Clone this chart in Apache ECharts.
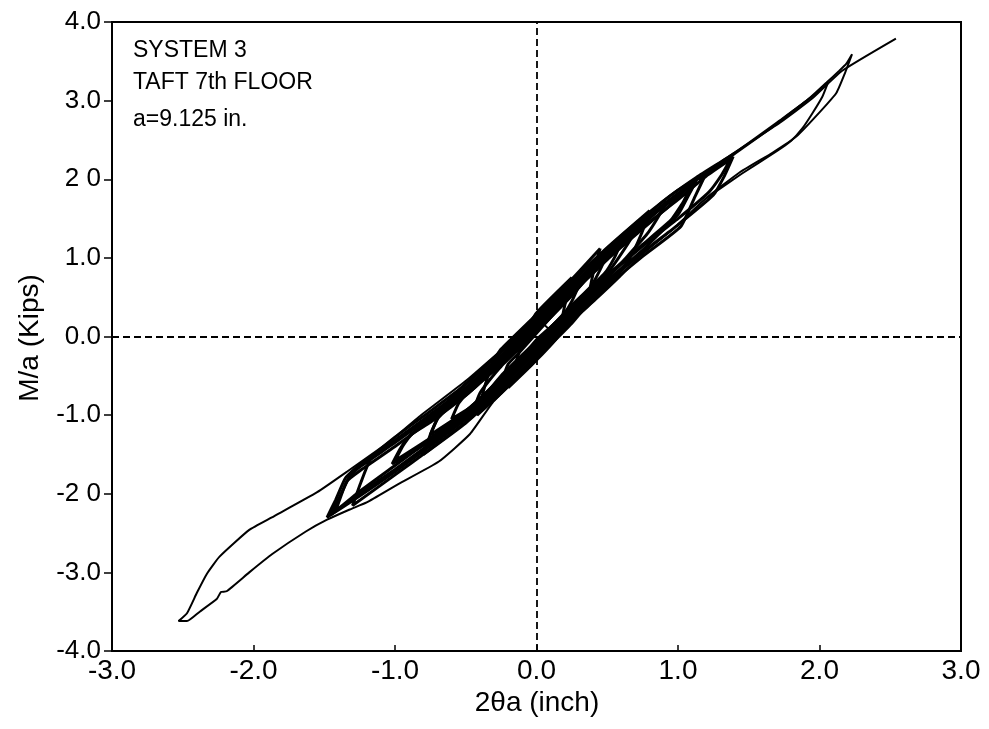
<!DOCTYPE html>
<html><head><meta charset="utf-8">
<script src="https://cdn.jsdelivr.net/npm/echarts@6/dist/echarts.min.js"></script>
<style>html,body{margin:0;padding:0;background:#fff}#c{width:989px;height:729px}</style>
</head><body><div id="c"></div>
<script>
// Tick labels (as printed on the scanned figure)
const xTickLabels = ['-3.0', '-2.0', '-1.0', '0.0', '1.0', '2.0', '3.0'];
const yTickLabels = ['-4.0', '-3.0', '-2 0', '-1.0', '0.0', '1.0', '2 0', '3.0', '4.0'];
const xTitle = '2θa (inch)';
const yTitle = 'M/a (Kips)';
const noteLines = ['SYSTEM 3', 'TAFT 7th FLOOR', 'a=9.125 in.'];

// Hysteresis traces: [2θa (inch), M/a (kips)]
const loopOuterNeg = [[0.14,0.0],[0.0,0.22],[-0.19,-0.08],[-0.49,-0.55],[-0.83,-1.02],[-1.02,-1.31],[-1.34,-1.72],[-1.55,-1.98],[-1.87,-2.30],[-2.03,-2.46],[-2.24,-2.80],[-2.33,-3.02],[-2.40,-3.26],[-2.47,-3.52],[-2.53,-3.62],[-2.47,-3.62],[-2.38,-3.50],[-2.26,-3.34],[-2.23,-3.25],[-2.19,-3.24],[-2.03,-3.00],[-1.87,-2.77],[-1.63,-2.48],[-1.48,-2.33],[-1.32,-2.20],[-1.20,-2.11],[-0.98,-1.88],[-0.69,-1.59],[-0.47,-1.24],[-0.31,-0.84],[-0.17,-0.59],[0.0,-0.29],[0.14,0.0]];
const loopOuterPos = [[0.14,-0.01],[0.28,0.24],[0.42,0.47],[0.59,0.76],[0.73,1.02],[0.96,1.36],[1.20,1.76],[1.43,2.08],[1.67,2.34],[1.84,2.55],[2.00,2.85],[2.12,3.10],[2.18,3.35],[2.23,3.59],[2.19,3.47],[2.14,3.38],[2.05,3.23],[1.91,3.00],[1.72,2.75],[1.41,2.35],[1.13,2.03],[0.89,1.72],[0.71,1.42],[0.52,1.15],[0.37,0.92],[0.23,0.70],[0.02,0.34],[-0.12,0.0]];
const lineFinal = [[-0.05,0.0],[0.1,0.3],[0.5,1.1],[0.9,1.68],[1.3,2.22],[1.72,2.72],[1.95,3.03],[2.16,3.38],[2.54,3.79]];
const loopPeakInner = [[1.20,1.76],[1.45,2.07],[1.70,2.36],[1.80,2.49],[1.88,2.65],[1.95,2.84],[2.02,3.05],[2.06,3.23],[1.98,3.10],[1.85,2.92],[1.65,2.64],[1.40,2.32],[1.15,1.99]];
const loopE = [[1.39,2.29],[1.33,2.05],[1.25,1.80],[1.0,1.42],[0.75,1.07],[0.5,0.68],[0.25,0.25],[0,-0.2],[-0.25,-0.64],[-0.5,-1.05],[-0.75,-1.39],[-1.0,-1.72],[-1.25,-2.03],[-1.48,-2.30],[-1.42,-2.08],[-1.35,-1.80],[-1.25,-1.63],[-1.0,-1.32],[-0.75,-0.99],[-0.5,-0.65],[-0.25,-0.24],[0,0.2],[0.25,0.65],[0.5,1.08],[0.75,1.47],[1.0,1.82],[1.25,2.14],[1.39,2.29]];
const loopF = [[1.13,1.98],[1.07,1.78],[1.0,1.55],[0.75,1.10],[0.5,0.71],[0.25,0.28],[0,-0.17],[-0.25,-0.61],[-0.5,-1.02],[-0.75,-1.36],[-1.0,-1.69],[-1.25,-2.0],[-1.45,-2.26],[-1.38,-2.0],[-1.32,-1.78],[-1.25,-1.66],[-1.0,-1.35],[-0.75,-1.02],[-0.5,-0.68],[-0.25,-0.27],[0,0.17],[0.25,0.62],[0.5,1.05],[0.75,1.44],[1.0,1.79],[1.13,1.98]];
const loopG = [[0.92,1.72],[0.86,1.52],[0.78,1.30],[0.5,0.74],[0.25,0.31],[0,-0.14],[-0.25,-0.58],[-0.5,-0.99],[-0.75,-1.33],[-1.02,-1.62],[-0.96,-1.42],[-0.9,-1.27],[-0.75,-1.05],[-0.5,-0.71],[-0.25,-0.30],[0,0.14],[0.25,0.59],[0.5,1.02],[0.75,1.41],[0.92,1.72]];
const loopH = [[0.72,1.42],[0.66,1.22],[0.58,1.0],[0.5,0.80],[0.25,0.36],[0,-0.1],[-0.25,-0.54],[-0.5,-0.95],[-0.75,-1.25],[-0.7,-1.05],[-0.62,-0.9],[-0.5,-0.75],[-0.25,-0.34],[0,0.1],[0.25,0.55],[0.5,0.98],[0.72,1.42]];
const loopI = [[0.5,1.05],[0.45,0.85],[0.38,0.62],[0.25,0.38],[0,-0.06],[-0.25,-0.5],[-0.45,-0.95],[-0.4,-0.72],[-0.33,-0.55],[-0.25,-0.38],[0,0.06],[0.25,0.52],[0.5,1.05]];
const loopJ = [[0.3,0.65],[0.25,0.45],[0.18,0.25],[0,-0.04],[-0.25,-0.6],[-0.2,-0.35],[-0.12,-0.2],[0,0.04],[0.3,0.65]];
const loopK = [[1.37,2.25],[1.31,2.06],[1.22,1.84],[1.0,1.50],[0.75,1.15],[0.5,0.76],[0.25,0.33],[0,-0.12],[-0.25,-0.56],[-0.5,-0.97],[-0.75,-1.31],[-1.0,-1.64],[-1.25,-1.97],[-1.42,-2.22],[-1.38,-2.02],[-1.34,-1.84],[-1.25,-1.71],[-1.0,-1.40],[-0.75,-1.07],[-0.5,-0.73],[-0.25,-0.32],[0,0.12],[0.25,0.57],[0.5,1.0],[0.75,1.39],[1.0,1.74],[1.2,2.04],[1.37,2.25]];
const loopL = [[1.1,1.95],[1.04,1.72],[0.95,1.48],[0.75,1.17],[0.5,0.78],[0.25,0.35],[0,-0.1],[-0.25,-0.54],[-0.5,-0.95],[-0.75,-1.29],[-1.0,-1.58],[-0.94,-1.38],[-0.88,-1.24],[-0.75,-1.09],[-0.5,-0.75],[-0.25,-0.34],[0,0.1],[0.25,0.55],[0.5,0.98],[0.75,1.37],[0.95,1.68],[1.1,1.95]];
const loopM = [[0.6,1.2],[0.55,1.0],[0.48,0.8],[0.25,0.4],[0,-0.08],[-0.25,-0.52],[-0.45,-0.88],[-0.6,-1.05],[-0.55,-0.85],[-0.48,-0.7],[-0.25,-0.36],[0,0.08],[0.25,0.53],[0.45,0.92],[0.6,1.2]];
const loopN = [[0.45,1.12],[0.40,0.80],[0.35,0.40],[0.25,0.17],[0,-0.28],[-0.25,-0.72],[-0.42,-1.0],[-0.36,-0.6],[-0.3,-0.3],[-0.25,-0.16],[0,0.28],[0.25,0.73],[0.45,1.12]];
const loopO = [[0.8,1.6],[0.74,1.3],[0.66,1.0],[0.5,0.63],[0.25,0.2],[0,-0.25],[-0.25,-0.69],[-0.5,-1.1],[-0.8,-1.5],[-0.74,-1.2],[-0.66,-0.9],[-0.5,-0.6],[-0.25,-0.19],[0,0.25],[0.25,0.7],[0.5,1.13],[0.8,1.6]];
const loopQ = [[0.25,0.75],[0.2,0.4],[0.15,0.0],[0,-0.3],[-0.2,-0.65],[-0.14,-0.3],[-0.08,0.05],[0,0.3],[0.25,0.75]];
const loopR = [[1.2,2.08],[1.12,1.78],[1.02,1.4],[0.75,1.02],[0.5,0.64],[0.25,0.21],[0,-0.24],[-0.25,-0.68],[-0.5,-1.09],[-0.75,-1.43],[-1.0,-1.76],[-1.3,-2.15],[-1.24,-1.85],[-1.17,-1.55],[-1.0,-1.28],[-0.75,-0.95],[-0.5,-0.61],[-0.25,-0.2],[0,0.24],[0.25,0.69],[0.5,1.12],[0.75,1.51],[1.0,1.86],[1.2,2.08]];

const outerTraces = [loopOuterNeg, loopOuterPos, lineFinal, loopPeakInner];
const innerTraces = [loopE, loopF, loopG, loopH, loopI, loopJ, loopK, loopL, loopM, loopN, loopO, loopQ, loopR];

const FONT = 'Liberation Sans, Arial, Helvetica, sans-serif';
const chart = echarts.init(document.getElementById('c'), null, {renderer: 'canvas'});

const mk = (d, w) => ({
  type: 'line', data: d, showSymbol: false, symbol: 'none', smooth: 0.15,
  silent: true, animation: false, z: 3,
  lineStyle: {color: '#000', width: w}
});
const series = outerTraces.map(d => mk(d, 2)).concat(innerTraces.map(d => mk(d, 3)));
series[0].markLine = {
  silent: true, symbol: ['none', 'none'], label: {show: false}, animation: false,
  lineStyle: {color: '#000', type: [7, 4], width: 1.8},
  data: [{xAxis: 0}, {yAxis: 0}]
};

chart.setOption({
  animation: false,
  backgroundColor: '#fff',
  grid: {left: 112, right: 28, top: 22, bottom: 78, show: true, borderColor: '#000', borderWidth: 2, backgroundColor: 'transparent'},
  xAxis: {
    type: 'value', min: -3, max: 3, interval: 1,
    axisLine: {show: true, onZero: false, lineStyle: {color: '#000', width: 2}},
    axisTick: {show: true, inside: true, length: 6, lineStyle: {color: '#000', width: 1.5}},
    splitLine: {show: false},
    axisLabel: {color: '#000', fontFamily: FONT, fontSize: 28, margin: 6,
      formatter: v => xTickLabels[Math.round(v + 3)]}
  },
  yAxis: {
    type: 'value', min: -4, max: 4, interval: 1,
    axisLine: {show: true, onZero: false, lineStyle: {color: '#000', width: 2}},
    axisTick: {show: true, inside: false, length: 8, lineStyle: {color: '#000', width: 1.5}},
    splitLine: {show: false},
    axisLabel: {color: '#000', fontFamily: FONT, fontSize: 26, margin: 11,
      formatter: v => yTickLabels[Math.round(v + 4)]}
  },
  graphic: [
    {type: 'text', left: 133, top: 39, style: {text: noteLines[0], font: '23px ' + FONT, fill: '#000'}},
    {type: 'text', left: 133, top: 71, style: {text: noteLines[1], font: '23px ' + FONT, fill: '#000'}},
    {type: 'text', left: 133, top: 108, style: {text: noteLines[2], font: '23px ' + FONT, fill: '#000'}},
    {type: 'text', x: 537, y: 703, style: {text: xTitle, font: '28px ' + FONT, fill: '#000', align: 'center', verticalAlign: 'middle'}},
    {type: 'text', x: 30, y: 338, rotation: Math.PI / 2, style: {text: yTitle, font: '28px ' + FONT, fill: '#000', align: 'center', verticalAlign: 'middle'}}
  ],
  series: series
});
</script></body></html>
